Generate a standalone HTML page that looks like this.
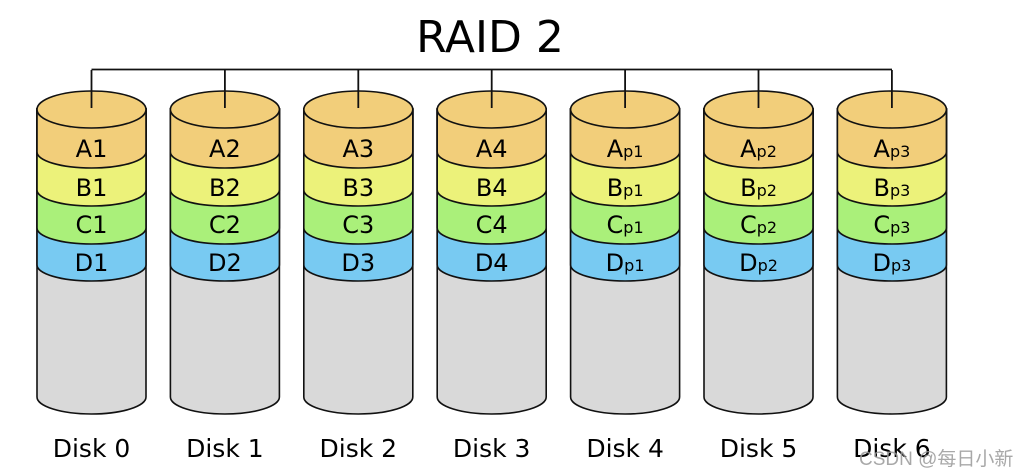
<!DOCTYPE html>
<html><head><meta charset="utf-8"><style>
html,body{margin:0;padding:0;background:#fff;width:1027px;height:476px;overflow:hidden}
svg{display:block}
text{font-family:"DejaVu Sans","Liberation Sans",sans-serif}
</style></head><body>
<svg width="1027" height="476" viewBox="0 0 1027 476" xmlns="http://www.w3.org/2000/svg">
<defs>
<g id="disk" stroke="#111" stroke-width="1.6">
  <path d="M37,109 V397 A54.5,17 0 0 0 146,397 V109 Z" fill="#d9d9d9"/>
  <path d="M37,109 V265 A54.5,16 0 0 0 146,265 V109 Z" fill="#78caf2"/>
  <path d="M37,109 V228 A54.5,16 0 0 0 146,228 V109 Z" fill="#aaf07a"/>
  <path d="M37,109 V190 A54.5,16 0 0 0 146,190 V109 Z" fill="#ecf27a"/>
  <path d="M37,109 V152 A54.5,16 0 0 0 146,152 V109 Z" fill="#f2ce7a"/>
  <ellipse cx="91.5" cy="109.5" rx="54.5" ry="18.5" fill="#f2ce7a"/>
  <line x1="91.5" y1="70" x2="91.5" y2="108" stroke-width="1.8"/>
</g>
</defs>
<text x="490" y="52" font-size="44" text-anchor="middle" fill="#000">RAID 2</text>
<line x1="91.5" y1="69.5" x2="892" y2="69.5" stroke="#111" stroke-width="1.8"/>
<use href="#disk" x="0"/>
<use href="#disk" x="133.4"/>
<use href="#disk" x="266.8"/>
<use href="#disk" x="400.2"/>
<use href="#disk" x="533.6"/>
<use href="#disk" x="667"/>
<use href="#disk" x="800.4"/>
<g font-size="24" text-anchor="middle" fill="#000">
<text x="91.5" y="157">A1</text><text x="91.5" y="196">B1</text><text x="91.5" y="233">C1</text><text x="91.5" y="271">D1</text>
<text x="224.9" y="157">A2</text><text x="224.9" y="196">B2</text><text x="224.9" y="233">C2</text><text x="224.9" y="271">D2</text>
<text x="358.3" y="157">A3</text><text x="358.3" y="196">B3</text><text x="358.3" y="233">C3</text><text x="358.3" y="271">D3</text>
<text x="491.7" y="157">A4</text><text x="491.7" y="196">B4</text><text x="491.7" y="233">C4</text><text x="491.7" y="271">D4</text>
<text x="625.1" y="157">A<tspan font-size="16">p1</tspan></text><text x="625.1" y="196">B<tspan font-size="16">p1</tspan></text><text x="625.1" y="233">C<tspan font-size="16">p1</tspan></text><text x="625.1" y="271">D<tspan font-size="16">p1</tspan></text>
<text x="758.5" y="157">A<tspan font-size="16">p2</tspan></text><text x="758.5" y="196">B<tspan font-size="16">p2</tspan></text><text x="758.5" y="233">C<tspan font-size="16">p2</tspan></text><text x="758.5" y="271">D<tspan font-size="16">p2</tspan></text>
<text x="891.9" y="157">A<tspan font-size="16">p3</tspan></text><text x="891.9" y="196">B<tspan font-size="16">p3</tspan></text><text x="891.9" y="233">C<tspan font-size="16">p3</tspan></text><text x="891.9" y="271">D<tspan font-size="16">p3</tspan></text>
</g>
<g font-size="25" text-anchor="middle" fill="#000">
<text x="91.5" y="457">Disk 0</text><text x="224.9" y="457">Disk 1</text><text x="358.3" y="457">Disk 2</text><text x="491.7" y="457">Disk 3</text><text x="625.1" y="457">Disk 4</text><text x="758.5" y="457">Disk 5</text><text x="891.9" y="457">Disk 6</text>
</g>
<text x="859" y="465" font-size="19" fill="#999" fill-opacity="0.85" style='font-family:"Liberation Sans","Noto Sans CJK SC",sans-serif'>CSDN @每日小新</text>
</svg>
</body></html>
